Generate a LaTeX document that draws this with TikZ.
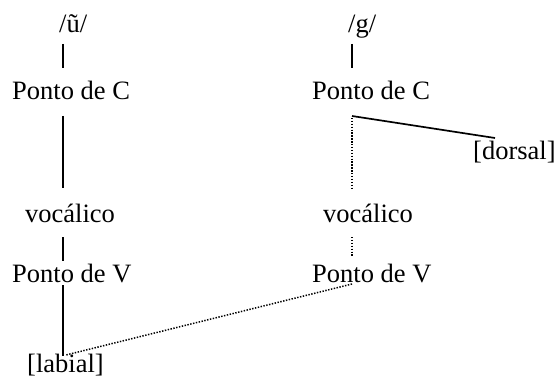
\documentclass[tikz,border=0pt]{standalone}
\usepackage{fontspec}
\setmainfont{Liberation Serif}
\usetikzlibrary{calc}

\begin{document}
\begin{tikzpicture}[x=1pt,y=-1pt,
            every node/.style={inner sep=0pt,anchor=base west,font=\fontsize{26.5}{30}\selectfont},
            assoc/.style={line width=1.7pt},
            delink/.style={line width=1.5pt,dash pattern=on 1.4pt off 1.5pt}]
            \useasboundingbox (0,0) rectangle (557,377);
            \coordinate (axU) at (63,0);
            \coordinate (axG) at (352,0);

            \node (U) at (59,33) {/ũ/};
            \node (PCU) at (12,100) {Ponto de C};
            \node (VU) at (25,222) {vocálico};
            \node (PVU) at (12,282) {Ponto de V};
            \node (L) at (27,372) {[labial]};

            \node (G) at (348,33) {/g/};
            \node (PCG) at (312,100) {Ponto de C};
            \node (D) at (473,160) {[dorsal]};
            \node (VG) at (323,222) {vocálico};
            \node (PVG) at (312,282) {Ponto de V};

            \draw[assoc] ([yshift=-11pt]U.base -| axU) -- ([yshift=32pt]PCU.base -| axU);
            \draw[assoc] ([yshift=-16pt]PCU.base -| axU) -- ([yshift=34pt]VU.base -| axU);
            \draw[assoc] ([yshift=-15pt]VU.base -| axU) -- ([yshift=21pt]PVU.base -| axU);
            \draw[assoc] ([yshift=-3pt]PVU.base -| axU) -- ([yshift=16pt]L.base -| axU);

            \draw[assoc] ([yshift=-11pt]G.base -| axG) -- ([yshift=32pt]PCG.base -| axG);
            \draw[assoc] ([yshift=-16pt]PCG.base -| axG) -- ([xshift=22pt,yshift=22pt]D.base west);
            \draw[delink] ([yshift=-18pt]PCG.base -| axG) -- ([yshift=32pt]VG.base -| axG);
            \draw[delink] ([yshift=-15pt]VG.base -| axG) -- ([yshift=25pt]PVG.base -| axG);
            \draw[delink] ([yshift=-2pt]PVG.base -| axG) -- ([xshift=3pt,yshift=17pt]L.base -| axU);
\end{tikzpicture}
\end{document}
